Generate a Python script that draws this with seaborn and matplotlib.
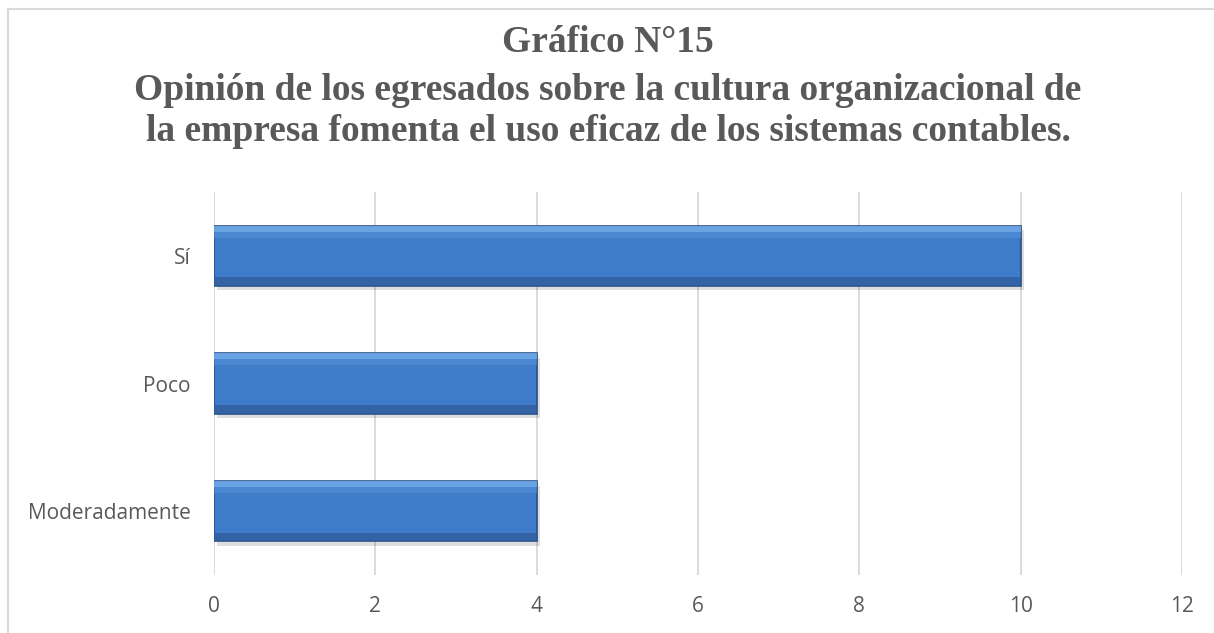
import matplotlib
matplotlib.use("Agg")
import matplotlib.pyplot as plt
import seaborn as sns
import pandas as pd
import numpy as np

categories = ["Sí", "Poco", "Moderadamente"]
values = [10, 4, 4]
xticks = [0, 2, 4, 6, 8, 10, 12]
title_lines = ["Gráfico N°15",
               "Opinión de los egresados sobre la cultura organizacional de",
               "la empresa fomenta el uso eficaz de los sistemas contables."]

sns.set_theme(style="white")
plt.rcParams['font.family'] = ['Open Sans', 'DejaVu Sans']

df = pd.DataFrame({"cat": categories, "val": values})

fig = plt.figure(figsize=(12.14, 6.33), dpi=100)
ax = fig.add_axes([214/1214, 1-575/633, (1182-214)/1214, (575-192)/633])

sns.barplot(data=df, y="cat", x="val", order=categories, color="#3E7BC9",
            saturation=1, width=0.47, edgecolor="#2A5189", linewidth=1.2,
            ax=ax, zorder=3)

# subtle shadow + highlight for bevel look
for p in list(ax.patches):
    x0, y0 = p.get_x(), p.get_y()
    w, h = p.get_width(), p.get_height()
    ax.add_patch(plt.Rectangle((x0 + 0.04, y0 + 0.035), w, h, color="#000000",
                               alpha=0.13, zorder=2, lw=0))
    ax.add_patch(plt.Rectangle((x0, y0), w, h * 0.10, color="#74AEEC",
                               alpha=0.8, zorder=4, lw=0))
    ax.add_patch(plt.Rectangle((x0, y0 + h * 0.10), w, h * 0.10, color="#5A96DC",
                               alpha=0.5, zorder=4, lw=0))
    ax.add_patch(plt.Rectangle((x0, y0 + h * 0.86), w, h * 0.14, color="#2E5C9C",
                               alpha=0.75, zorder=4, lw=0))

ax.set_xlim(0, 12)
ax.set_ylim(2.5, -0.5)
ax.set_xticks(xticks)
ax.set_xticklabels([str(t) for t in xticks])
ax.grid(axis="x", color="#D9D9D9", linewidth=1.3, zorder=0)
ax.grid(axis="y", visible=False)
for s in ax.spines.values():
    s.set_visible(False)
ax.set_xlabel("")
ax.set_ylabel("")
ax.tick_params(axis="x", length=0, pad=15, labelsize=15, labelcolor="#595959")
ax.tick_params(axis="y", length=0, pad=17, labelsize=15, labelcolor="#595959")

# outer chart border
fig.add_artist(plt.Line2D([8/1214, 8/1214], [0, 1-9/633], color="#D9D9D9", lw=1.5))
fig.add_artist(plt.Line2D([8/1214, 1], [1-9/633, 1-9/633], color="#D9D9D9", lw=1.5))

ys = [42, 90, 132]
for t, y in zip(title_lines, ys):
    fig.text(608/1214, 1 - y/633, t, ha="center", va="center",
             fontsize=27, fontweight="bold", color="#595959",
             family=["Liberation Serif", "DejaVu Serif"])

fig.savefig("out.png", dpi=100)
